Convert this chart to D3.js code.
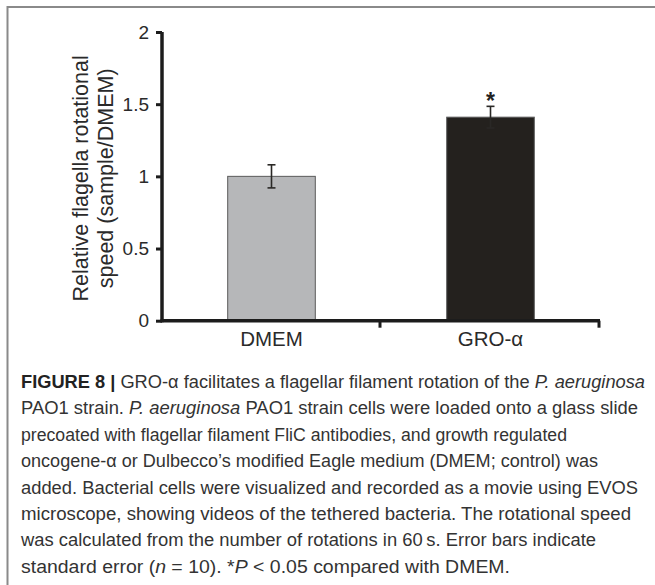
<!DOCTYPE html>
<html>
<head>
<meta charset="utf-8">
<script src="https://cdn.jsdelivr.net/npm/d3@7"></script>
<style>
  html, body { margin: 0; padding: 0; background: #ffffff; }
  svg { display: block; }
</style>
</head>
<body>
<svg id="chart" width="655" height="585"></svg>
<script>
// ---- data ----
const categories = ["DMEM", "GRO-α"];
const means = [1.00, 1.41];
const stdErrors = [0.08, 0.075];
const significance = ["", "*"];
const yTicks = [0, 0.5, 1, 1.5, 2];
const yTickLabels = ["0", "0.5", "1", "1.5", "2"];
const yTitleLines = ["Relative flagella rotational", "speed (sample/DMEM)"];
const barFills = ["#b6b7b9", "#24211e"];
const captionLines = [
  [{t: "FIGURE 8 | ", b: true}, {t: "GRO-α facilitates a flagellar filament rotation of the "}, {t: "P. aeruginosa", i: true}],
  [{t: "PAO1 strain. "}, {t: "P. aeruginosa", i: true}, {t: " PAO1 strain cells were loaded onto a glass slide"}],
  [{t: "precoated with flagellar filament FliC antibodies, and growth regulated"}],
  [{t: "oncogene-α or Dulbecco’s modified Eagle medium (DMEM; control) was"}],
  [{t: "added. Bacterial cells were visualized and recorded as a movie using EVOS"}],
  [{t: "microscope, showing videos of the tethered bacteria. The rotational speed"}],
  [{t: "was calculated from the number of rotations in 60\u2009s. Error bars indicate"}],
  [{t: "standard error ("}, {t: "n", i: true}, {t: " = 10). *"}, {t: "P", i: true}, {t: " < 0.05 compared with DMEM."}]
];
const captionLineEnds = [645, 638, 567, 598, 638, 631, 596, 510];

// ---- layout ----
const svg = d3.select("#chart");
const plot = {left: 162, right: 600, top: 32, bottom: 320.7};
const font = "'Liberation Sans', Arial, Helvetica, sans-serif";

// frame
svg.append("path")
  .attr("d", "M7.5,585 V7 H655")
  .attr("fill", "none")
  .attr("stroke", "#8a8a8a")
  .attr("stroke-width", 2);

const x = d3.scaleBand()
  .domain(categories)
  .range([plot.left, plot.right])
  .paddingInner(0.6)
  .paddingOuter(0.3);

const y = d3.scaleLinear()
  .domain([0, 2])
  .range([plot.bottom, plot.top]);

// bars
svg.append("g").selectAll("rect")
  .data(categories)
  .join("rect")
  .attr("x", d => x(d))
  .attr("width", x.bandwidth())
  .attr("y", (d, i) => y(means[i]))
  .attr("height", (d, i) => y(0) - y(means[i]))
  .attr("fill", (d, i) => barFills[i])
  .attr("stroke", "#5a5a5a")
  .attr("stroke-width", 1);

// error bars
const eb = svg.append("g").attr("stroke", "#2a2826").attr("stroke-width", 1.6);
categories.forEach((c, i) => {
  const cx = x(c) + x.bandwidth() / 2;
  const hi = y(means[i] + stdErrors[i]);
  const lo = y(means[i] - stdErrors[i]);
  eb.append("line").attr("x1", cx).attr("x2", cx).attr("y1", hi).attr("y2", lo);
  eb.append("line").attr("x1", cx - 4).attr("x2", cx + 4).attr("y1", hi).attr("y2", hi);
  eb.append("line").attr("x1", cx - 4).attr("x2", cx + 4).attr("y1", lo).attr("y2", lo);
  if (significance[i]) {
    svg.append("text")
      .attr("x", cx)
      .attr("y", hi + 3)
      .attr("text-anchor", "middle")
      .attr("font-family", font)
      .attr("font-size", 23)
      .attr("font-weight", "bold")
      .attr("fill", "#222")
      .text(significance[i]);
  }
});

// y axis
const yAxis = svg.append("g")
  .attr("transform", `translate(${plot.left},0)`)
  .call(d3.axisLeft(y)
    .tickValues(yTicks)
    .tickFormat((d, i) => yTickLabels[i])
    .tickSize(6)
    .tickSizeOuter(0)
    .tickPadding(7));
yAxis.select(".domain").attr("stroke", "#1c1c1c").attr("stroke-width", 3.5)
  .attr("d", `M0,${plot.top}V${plot.bottom + 1.5}`);
yAxis.selectAll(".tick line").attr("stroke", "#1c1c1c").attr("stroke-width", 3);
yAxis.selectAll(".tick text")
  .attr("font-family", font)
  .attr("font-size", 19)
  .attr("fill", "#2a2a2a");

// x axis (line + boundary ticks + labels)
const xAxis = svg.append("g")
  .attr("transform", `translate(0,${plot.bottom})`)
  .call(d3.axisBottom(x).tickSize(0).tickPadding(11));
xAxis.select(".domain").remove();
xAxis.selectAll(".tick text")
  .attr("font-family", font)
  .attr("font-size", 20.5)
  .attr("fill", "#2a2a2a");
xAxis.append("line")
  .attr("x1", plot.left - 1.5).attr("x2", plot.right)
  .attr("y1", 0).attr("y2", 0)
  .attr("stroke", "#1c1c1c").attr("stroke-width", 3.5);
const boundaries = d3.range(categories.length + 1).map(k => plot.left + k * x.step());
xAxis.selectAll(".bnd")
  .data(boundaries.slice(1))
  .join("line")
  .attr("x1", d => d - 1).attr("x2", d => d - 1)
  .attr("y1", 0).attr("y2", 7)
  .attr("stroke", "#1c1c1c").attr("stroke-width", 3);

// y title
const yMid = (plot.top + plot.bottom) / 2;
const yTitle = svg.append("text")
  .attr("transform", `translate(88,${yMid + 2}) rotate(-90)`)
  .attr("text-anchor", "middle")
  .attr("font-family", font)
  .attr("font-size", 21.5)
  .attr("fill", "#2a2a2a");
yTitleLines.forEach((l, i) => {
  yTitle.append("tspan").attr("x", 0).attr("dy", i === 0 ? 0 : 24.5).text(l);
});

// caption
const capX = 21, capY0 = 388, capDy = 26.4;
captionLines.forEach((segs, li) => {
  const t = svg.append("text")
    .attr("x", capX)
    .attr("y", capY0 + li * capDy)
    .attr("font-family", font)
    .attr("font-size", 17.5)
    .attr("fill", "#333")
    .attr("textLength", captionLineEnds[li] - capX)
    .attr("lengthAdjust", "spacingAndGlyphs");
  segs.forEach(s => {
    const sp = t.append("tspan").text(s.t);
    if (s.b) sp.attr("font-weight", "bold").attr("fill", "#222");
    if (s.i) sp.attr("font-style", "italic");
  });
});
</script>
</body>
</html>
